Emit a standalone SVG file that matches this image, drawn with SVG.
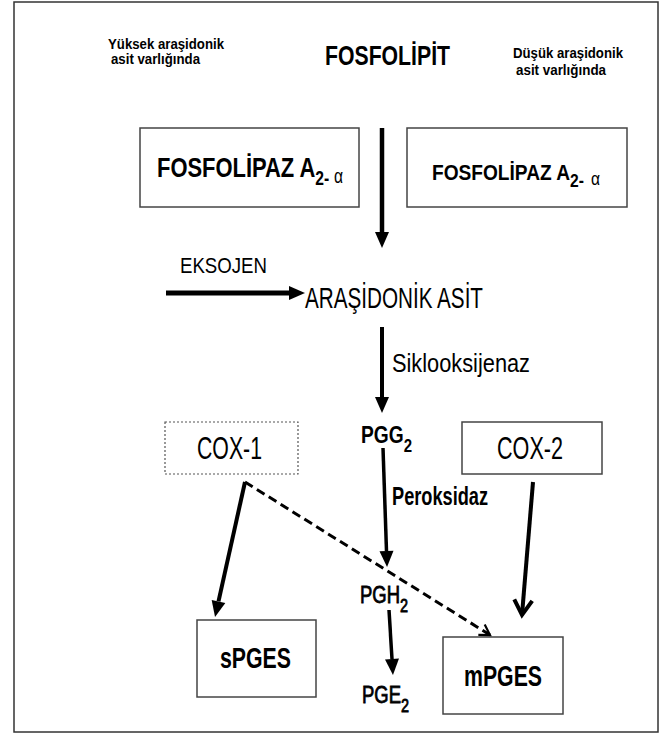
<svg xmlns="http://www.w3.org/2000/svg" width="665" height="734" viewBox="0 0 665 734">
<style>
text{font-family:"Liberation Sans",Arial,sans-serif;fill:#000}
.b{font-weight:bold}
.m{stroke:#000;stroke-width:0.8}
.box{fill:#fff;stroke:#444;stroke-width:1.5}
.dot{fill:#fff;stroke:#555;stroke-width:1.2;stroke-dasharray:2 2}
.ln{stroke:#000;fill:none}
</style>
<defs>
<marker id="tri" markerUnits="userSpaceOnUse" markerWidth="18" markerHeight="16" refX="0" refY="7" orient="auto" overflow="visible">
<path d="M0,0 L16,7 L0,14 z" fill="#000"/>
</marker>
<marker id="vee" markerUnits="userSpaceOnUse" markerWidth="20" markerHeight="20" refX="0" refY="0" orient="auto" overflow="visible">
<path d="M-15,-9 L0,0 L-15,9" fill="none" stroke="#000" stroke-width="4" stroke-linejoin="miter"/>
</marker>
<marker id="veeThin" markerUnits="userSpaceOnUse" markerWidth="14" markerHeight="14" refX="0" refY="0" orient="auto" overflow="visible">
<path d="M-10,-6 L0,0 L-10,6" fill="none" stroke="#000" stroke-width="2.2"/>
</marker>
</defs>
<rect x="0" y="0" width="665" height="734" fill="#fff"/>
<rect x="14" y="2" width="644" height="730" fill="#fff" stroke="#333" stroke-width="1.5"/>

<g id="labels-top">
<text class="b" x="108" y="49" font-size="15" textLength="116" lengthAdjust="spacingAndGlyphs">Yüksek araşidonik</text>
<text class="b" x="111" y="64" font-size="15" textLength="89" lengthAdjust="spacingAndGlyphs">asit varlığında</text>
<text class="b" x="513" y="58" font-size="15" textLength="110" lengthAdjust="spacingAndGlyphs">Düşük araşidonik</text>
<text class="b" x="516" y="75" font-size="15" textLength="90" lengthAdjust="spacingAndGlyphs">asit varlığında</text>
</g>

<g id="fosfolipit">
<text class="b" x="325" y="65" font-size="28" textLength="125" lengthAdjust="spacingAndGlyphs">FOSFOLİPİT</text>
</g>

<g id="fosfolipaz-left">
<rect class="box" x="140" y="128" width="219" height="79"/>
<text class="b" x="157" y="177" font-size="28" textLength="186" lengthAdjust="spacingAndGlyphs">FOSFOLİPAZ A<tspan font-size="20" dy="8">2-</tspan><tspan font-size="20" font-weight="normal" dx="6" dy="-2">α</tspan></text>
</g>

<g id="fosfolipaz-right">
<rect class="box" x="407" y="128" width="220" height="79"/>
<text class="b" x="432" y="180" font-size="22" textLength="168" lengthAdjust="spacingAndGlyphs">FOSFOLİPAZ A<tspan font-size="18" dy="7">2-</tspan><tspan font-size="18" font-weight="normal" dx="8" dy="-2">α</tspan></text>
</g>

<g id="eksojen">
<text x="180" y="273" font-size="22" textLength="87" lengthAdjust="spacingAndGlyphs">EKSOJEN</text>
</g>

<g id="arasidonik-asit">
<text x="305" y="308" font-size="29" textLength="178" lengthAdjust="spacingAndGlyphs">ARAŞİDONİK ASİT</text>
</g>

<g id="siklooksijenaz">
<text x="392" y="372" font-size="26" textLength="138" lengthAdjust="spacingAndGlyphs">Siklooksijenaz</text>
</g>

<g id="cox1">
<rect class="dot" x="165" y="422" width="133" height="52"/>
<text x="197" y="459" font-size="31" textLength="65" lengthAdjust="spacingAndGlyphs">COX-1</text>
</g>

<g id="cox2">
<rect class="box" x="462" y="422" width="140" height="52"/>
<text x="497" y="459" font-size="31" textLength="66" lengthAdjust="spacingAndGlyphs">COX-2</text>
</g>

<g id="pgg2">
<text class="b" x="361" y="443" font-size="23" textLength="51" lengthAdjust="spacingAndGlyphs">PGG<tspan font-size="18" dy="9">2</tspan></text>
</g>

<g id="peroksidaz">
<text class="b" x="392" y="505" font-size="25" textLength="96" lengthAdjust="spacingAndGlyphs">Peroksidaz</text>
</g>

<g id="pgh2">
<text class="m" x="360" y="603" font-size="23" textLength="48" lengthAdjust="spacingAndGlyphs">PGH<tspan font-size="18" dy="9">2</tspan></text>
</g>

<g id="pge2">
<text class="m" x="362" y="703" font-size="23" textLength="47" lengthAdjust="spacingAndGlyphs">PGE<tspan font-size="18" dy="9">2</tspan></text>
</g>

<g id="spges">
<rect class="box" x="197" y="620" width="119" height="77"/>
<text class="b" x="220" y="668" font-size="29" textLength="71" lengthAdjust="spacingAndGlyphs">sPGES</text>
</g>

<g id="mpges">
<rect class="box" x="443" y="637" width="120" height="77"/>
<text class="b" x="464" y="686" font-size="29" textLength="78" lengthAdjust="spacingAndGlyphs">mPGES</text>
</g>

<g id="connectors">
<line class="ln" x1="382" y1="128" x2="382" y2="232" stroke-width="4.5" marker-end="url(#tri)"/>
<line class="ln" x1="166" y1="293" x2="289" y2="293" stroke-width="5" marker-end="url(#tri)"/>
<line class="ln" x1="382" y1="327" x2="382" y2="397" stroke-width="4" marker-end="url(#tri)"/>
<line class="ln" x1="383" y1="448" x2="386.5" y2="551" stroke-width="3.5" marker-end="url(#tri)"/>
<line class="ln" x1="389" y1="610" x2="392" y2="659" stroke-width="3.5" marker-end="url(#tri)"/>
<line class="ln" x1="245" y1="482" x2="218.5" y2="601.4" stroke-width="4" marker-end="url(#tri)"/>
<line class="ln" x1="533" y1="482" x2="522" y2="615" stroke-width="4" marker-end="url(#vee)"/>
<line class="ln" x1="245" y1="482" x2="490" y2="635" stroke-width="3" stroke-dasharray="9 5" marker-end="url(#veeThin)"/>
</g>
</svg>
